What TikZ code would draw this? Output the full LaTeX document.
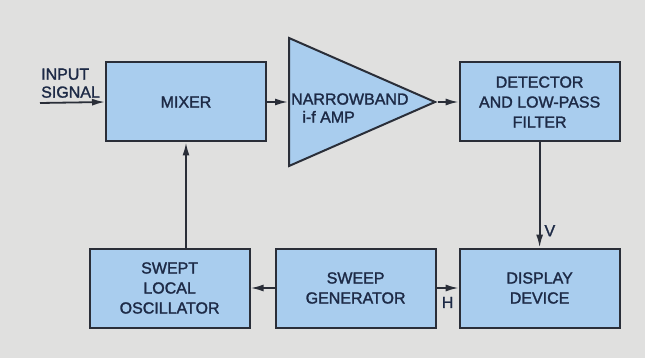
\documentclass[tikz,border=0pt]{standalone}
\usepackage{fontspec}
\setmainfont{Liberation Sans}[FakeBold=1.6]
\definecolor{bggray}{HTML}{E0E0DF}
\definecolor{boxblue}{HTML}{A9CDEE}
\definecolor{inkdark}{HTML}{2A2E38}
\definecolor{txtnavy}{HTML}{1D2A46}
\usetikzlibrary{
  shapes.geometric,
  arrows.meta,
  positioning,
}

\begin{document}
\begin{tikzpicture}[
  x=1pt, y=1pt,
  block/.style={
    draw=inkdark,
    line width=2pt,
    fill=boxblue,
    minimum width=160pt,
    minimum height=79pt,
    align=center,
    font=\fontsize{16}{20}\selectfont,
    text=txtnavy,
    inner sep=2pt,
  },
  amp/.style={
    draw=inkdark,
    line width=2pt,
    fill=boxblue,
    isosceles triangle,
    isosceles triangle stretches,
    minimum width=128pt,
    minimum height=146pt,
    inner sep=0pt,
  },
  arr/.style={
    -{Latex[length=13pt, width=7pt]},
    line width=1.8pt,
    draw=inkdark,
  },
  lbl/.style={
    font=\fontsize{16}{18}\selectfont,
    text=txtnavy,
    inner sep=1pt,
    align=left,
  },
]

% background panel
\fill[bggray] (0,0) rectangle (645,-358);
\useasboundingbox (0,0) rectangle (645,-358);

% =============================================================================
% Top row (signal path)
% =============================================================================
\node[block] (mixer) at (186,-102) {MIXER};
\node[amp, right=21pt of mixer] (amp) {};
\node[lbl, anchor=west, xshift=2pt, yshift=-6pt] (amptext) at (amp.lower side)
  {NARROWBAND\\\hspace*{0.7em}i-f AMP};
\node[block, right=21pt of amp] (detector) {DETECTOR\\AND LOW-PASS\\FILTER};

\coordinate (input) at (40,-103);
\node[lbl, anchor=south west, yshift=4pt] (inlabel) at (input) {INPUT\\SIGNAL};

\draw[arr] (input) -- (mixer.west);
\draw[arr] (mixer.east) -- (amp.west);
\draw[arr] (amp.east) -- (detector.west);

% =============================================================================
% Bottom row (sweep and display)
% =============================================================================
\node[block, below=105pt of detector] (display) {DISPLAY\\DEVICE};
\node[block, left=22pt of display] (sweep) {SWEEP\\GENERATOR};
\node[block, left=24pt of sweep] (oscillator) {SWEPT\\LOCAL\\OSCILLATOR};

\draw[arr] (detector.south) -- node[lbl, right=3pt, pos=0.84] {V} (detector.south |- display.north);
\draw[arr] (sweep.east) -- node[lbl, below=7pt] {H} (display.west);
\draw[arr] (sweep.west) -- (oscillator.east);
\draw[arr] (mixer.south |- oscillator.north) -- (mixer.south);

\end{tikzpicture}
\end{document}
